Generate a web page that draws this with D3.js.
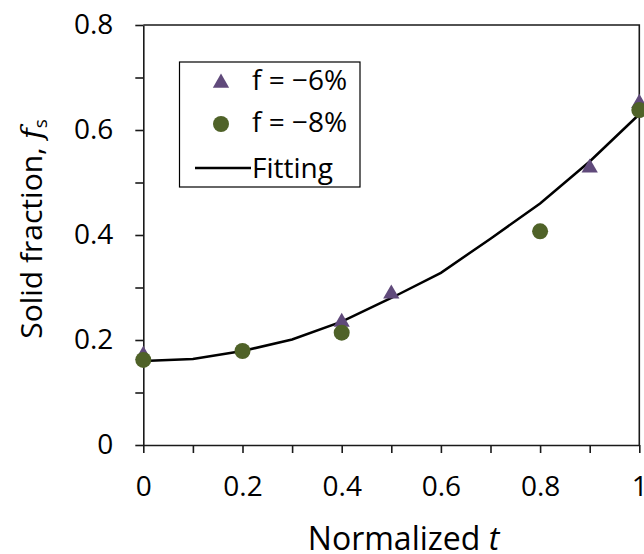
<!DOCTYPE html>
<html>
<head>
<meta charset="utf-8">
<script src="https://cdn.jsdelivr.net/npm/d3@7"></script>
<style>
  html, body { margin: 0; padding: 0; background: #fff; }
  svg { display: block; font-family: "Open Sans", sans-serif; }
</style>
</head>
<body>
<svg id="chart" width="644" height="554"></svg>
<script>
// ---- data ----
const tTri = [0, 0.4, 0.5, 0.9, 1.0];
const fsTri = [0.171, 0.234, 0.288, 0.528, 0.651];
const tCirc = [0, 0.2, 0.4, 0.8, 1.0];
const fsCirc = [0.162, 0.179, 0.214, 0.407, 0.638];
const tFit = [0, 0.1, 0.2, 0.3, 0.4, 0.5, 0.6, 0.7, 0.8, 0.9, 1.0];
const fsFit = [0.160, 0.164, 0.179, 0.201, 0.235, 0.280, 0.328, 0.393, 0.460, 0.540, 0.630];
const xTickValues = [0, 0.1, 0.2, 0.3, 0.4, 0.5, 0.6, 0.7, 0.8, 0.9, 1.0];
const yTickValues = [0, 0.1, 0.2, 0.3, 0.4, 0.5, 0.6, 0.7, 0.8];
const xLabels = {0: "0", 0.2: "0.2", 0.4: "0.4", 0.6: "0.6", 0.8: "0.8", 1: "1"};
const yLabels = {0: "0", 0.2: "0.2", 0.4: "0.4", 0.6: "0.6", 0.8: "0.8"};
const legendNames = ["f = \u22126%", "f = \u22128%", "Fitting"];
const purple = "#604a7b", green = "#4f6228";

// ---- layout ----
const svg = d3.select("#chart");
const pLeft = 143.3, pRight = 639.3, pTop = 25, pBottom = 445;
const x = d3.scaleLinear().domain([0, 1]).range([pLeft, pRight]);
const y = d3.scaleLinear().domain([0, 0.8]).range([pBottom, pTop]);

// frame (top + right)
svg.append("path")
  .attr("d", `M${pLeft},${pTop}H${pRight}V${pBottom}`)
  .attr("fill", "none").attr("stroke", "#1a1a1a").attr("stroke-width", 1.6);

const fmtX = v => xLabels[Math.round(v * 10) / 10] || "";
const fmtY = v => yLabels[Math.round(v * 10) / 10] || "";

const gx = svg.append("g").attr("transform", `translate(0,${pBottom})`)
  .call(d3.axisBottom(x).tickValues(xTickValues).tickSize(8).tickPadding(23).tickFormat(fmtX).tickSizeOuter(0));
const gy = svg.append("g").attr("transform", `translate(${pLeft},0)`)
  .call(d3.axisLeft(y).tickValues(yTickValues).tickSize(8).tickPadding(22).tickFormat(fmtY).tickSizeOuter(0));

[gx, gy].forEach(g => {
  g.select(".domain").attr("stroke", "#1a1a1a").attr("stroke-width", 1.6);
  g.selectAll(".tick line").attr("stroke", "#1a1a1a").attr("stroke-width", 1.6);
  g.selectAll(".tick text").attr("fill", "#000").style("font-size", "28px").style("font-family", "'Open Sans', sans-serif");
});

// fitting line
const line = d3.line().x(d => x(d[0])).y(d => y(d[1]));
svg.append("path")
  .datum(tFit.map((t, i) => [t, fsFit[i]]))
  .attr("d", line).attr("fill", "none").attr("stroke", "#000").attr("stroke-width", 2.5);

// triangles
const tri = d3.symbol().type(d3.symbolTriangle).size(115);
svg.append("g").selectAll("path")
  .data(tTri.map((t, i) => [t, fsTri[i]]))
  .join("path")
  .attr("d", tri)
  .attr("transform", d => `translate(${x(d[0])},${y(d[1])})`)
  .attr("fill", purple);

// circles
svg.append("g").selectAll("circle")
  .data(tCirc.map((t, i) => [t, fsCirc[i]]))
  .join("circle")
  .attr("cx", d => x(d[0])).attr("cy", d => y(d[1])).attr("r", 8)
  .attr("fill", green);

// legend
const lg = svg.append("g");
lg.append("rect").attr("x", 179.5).attr("y", 62).attr("width", 180.5).attr("height", 125)
  .attr("fill", "#fff").attr("stroke", "#000").attr("stroke-width", 1.2);
lg.append("path").attr("d", tri).attr("transform", "translate(221,83)").attr("fill", purple);
lg.append("circle").attr("cx", 221).attr("cy", 124).attr("r", 8).attr("fill", green);
lg.append("line").attr("x1", 195).attr("x2", 251).attr("y1", 168).attr("y2", 168)
  .attr("stroke", "#000").attr("stroke-width", 2.5);
const legY = [90, 132, 178];
legendNames.forEach((n, i) => {
  lg.append("text").attr("x", 252).attr("y", legY[i]).style("font-size", "28px").text(n);
});

// axis titles
const xt = svg.append("text").attr("x", 403.5).attr("y", 550).attr("text-anchor", "middle").style("font-size", "32px");
xt.append("tspan").text("Normalized ");
xt.append("tspan").style("font-style", "italic").text("t");

const yt = svg.append("text").attr("transform", "translate(42,229) rotate(-90)").attr("text-anchor", "middle").style("font-size", "30px");
yt.append("tspan").text("Solid fraction, ");
yt.append("tspan").style("font-style", "italic").style("font-family", "'DejaVu Serif', serif").text("f");
yt.append("tspan").attr("dy", 5).style("font-size", "19px").text("s");
</script>
</body>
</html>
